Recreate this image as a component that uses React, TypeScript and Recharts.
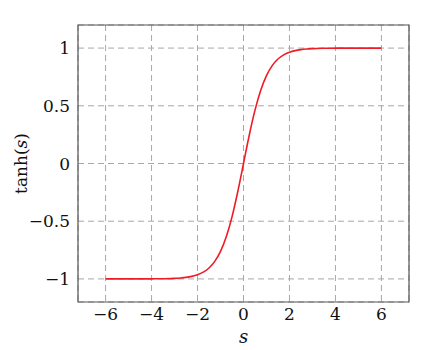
import React from 'react';
import { LineChart, Line, XAxis, YAxis, CartesianGrid, ReferenceArea, Label } from 'recharts';

// sample positions along s and the curve heights
const sValues = [
  -6, -5.5, -5, -4.5, -4, -3.5, -3, -2.75, -2.5, -2.25, -2, -1.75, -1.5, -1.25, -1, -0.75, -0.5, -0.25,
  0, 0.25, 0.5, 0.75, 1, 1.25, 1.5, 1.75, 2, 2.25, 2.5, 2.75, 3, 3.5, 4, 4.5, 5, 5.5, 6,
];
const tanhValues = [
  -1, -1, -0.9999, -0.9998, -0.9993, -0.9982, -0.9951, -0.9918, -0.9866, -0.978, -0.964, -0.9414, -0.9051,
  -0.8483, -0.7616, -0.6351, -0.4621, -0.2449, 0, 0.2449, 0.4621, 0.6351, 0.7616, 0.8483, 0.9051, 0.9414,
  0.964, 0.978, 0.9866, 0.9918, 0.9951, 0.9982, 0.9993, 0.9998, 0.9999, 1, 1,
];
const xTicks = [-6, -4, -2, 0, 2, 4, 6];
const yTicks = [-1, -0.5, 0, 0.5, 1];

const data = sValues.map((s, i) => ({ s, y: tanhValues[i] }));

const FONT = 'DejaVu Serif';
const fmt = (v: number) => (v < 0 ? '\u2212' + Math.abs(v) : String(v));

export default function App() {
  return (
    <div style={{ position: 'absolute', left: 0, top: 0, width: 441, height: 350, background: '#fff', fontFamily: FONT }}>
      <LineChart width={441} height={350} data={data} margin={{ top: 25, right: 32, bottom: 18, left: 18 }}>
        <CartesianGrid stroke="#a8a8a8" strokeDasharray="6 4" horizontal vertical />
        <XAxis
          dataKey="s"
          type="number"
          domain={[-7.2, 7.2]}
          ticks={xTicks}
          tickFormatter={fmt}
          allowDataOverflow
          height={30}
          tickLine={false}
          axisLine={false}
          tickSize={0}
          tickMargin={6}
          tick={{ fill: '#111', fontSize: 17, style: { fontFamily: FONT } }}
        >
          <Label
            content={({ viewBox }: any) => (
              <text
                x={viewBox.x + viewBox.width / 2}
                y={343}
                textAnchor="middle"
                style={{ fontFamily: FONT, fontSize: 18, fontStyle: 'italic' }}
                fill="#111"
              >
                s
              </text>
            )}
          />
        </XAxis>
        <YAxis
          type="number"
          domain={[-1.2, 1.2]}
          ticks={yTicks}
          tickFormatter={fmt}
          allowDataOverflow
          width={60}
          tickLine={false}
          axisLine={false}
          tickSize={0}
          tickMargin={8}
          tick={{ fill: '#111', fontSize: 17, style: { fontFamily: FONT } }}
        >
          <Label
            content={({ viewBox }: any) => {
              const cy = viewBox.y + viewBox.height / 2;
              return (
                <text
                  x={27}
                  y={cy}
                  transform={`rotate(-90 27 ${cy})`}
                  textAnchor="middle"
                  style={{ fontFamily: FONT, fontSize: 17 }}
                  fill="#111"
                >
                  tanh(<tspan fontStyle="italic">s</tspan>)
                </text>
              );
            }}
          />
        </YAxis>
        <ReferenceArea x1={-7.2} x2={7.2} y1={-1.2} y2={1.2} fill="none" stroke="#555" strokeWidth={1.2} ifOverflow="visible" />
        <Line
          type="monotone"
          dataKey="y"
          stroke="#ee1c25"
          strokeWidth={1.6}
          dot={false}
          isAnimationActive={false}
        />
      </LineChart>
    </div>
  );
}
